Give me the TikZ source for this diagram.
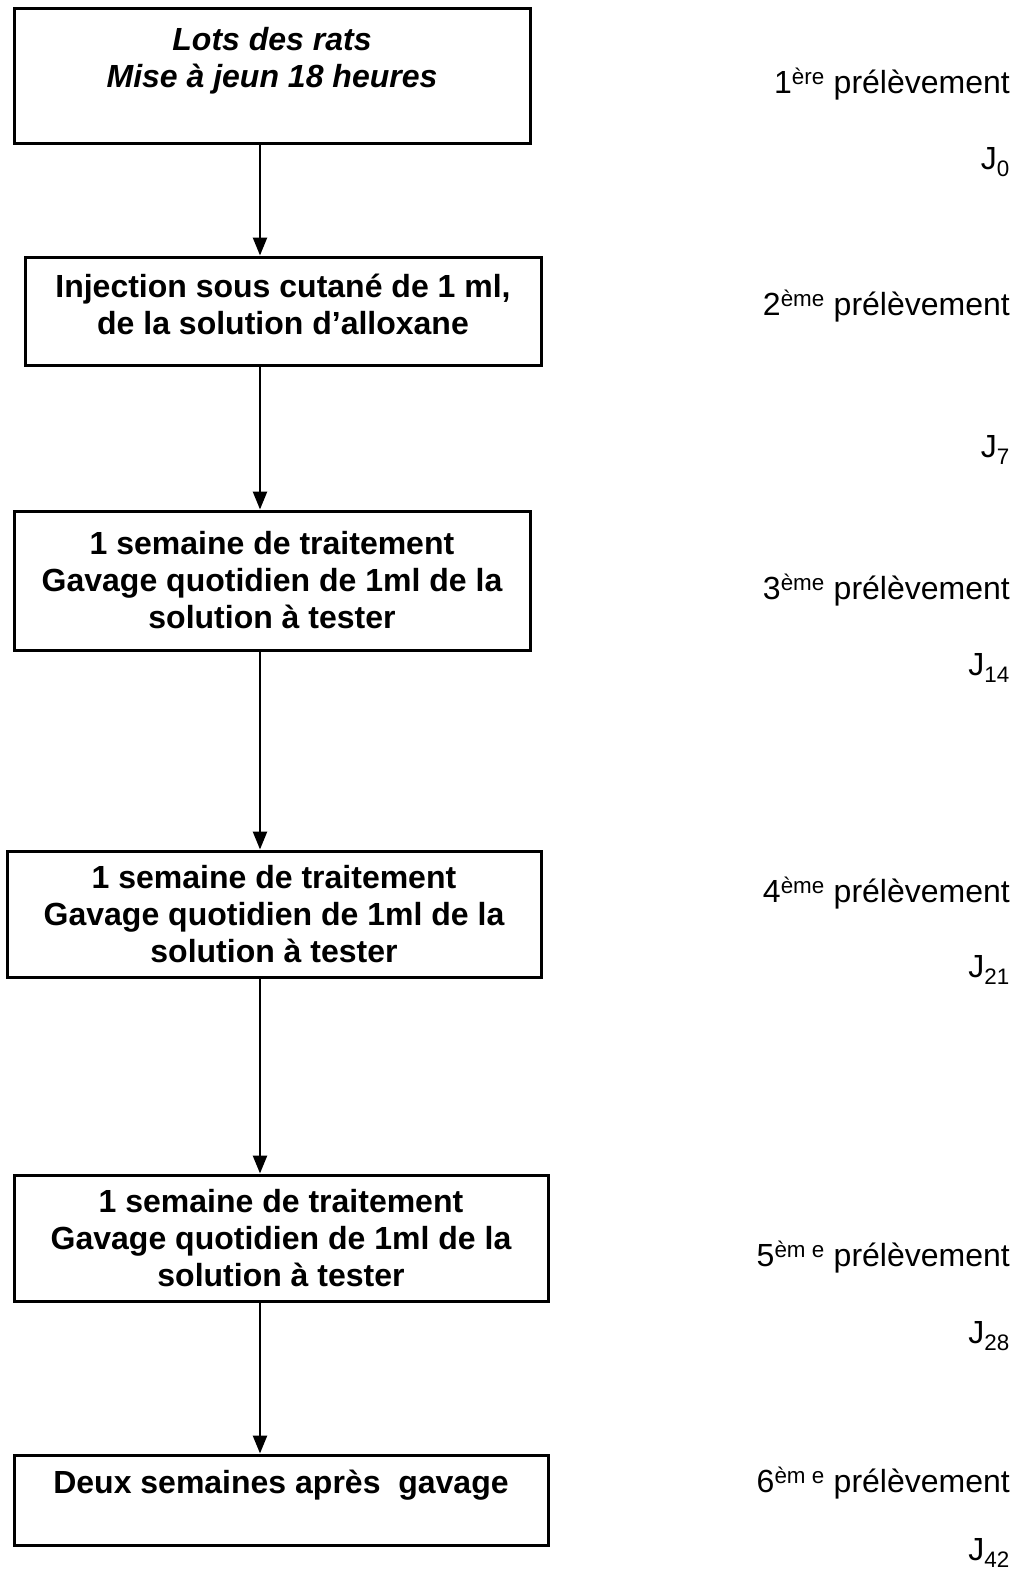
\documentclass[tikz,border=0pt]{standalone}
\usepackage{fontspec}
\setmainfont{Liberation Sans}
\usetikzlibrary{arrows.meta}

\begin{document}
\begin{tikzpicture}[x=1pt,y=-1pt,>={Triangle[width=14pt,length=18pt]},
stage/.style={draw,line width=3pt,inner sep=0pt,align=center,font=\fontsize{32}{37}\selectfont\bfseries},
prel/.style={anchor=east,inner sep=0pt,font=\fontsize{32}{37}\selectfont},
arr/.style={->,line width=2.5pt}]
\useasboundingbox (0,0) rectangle (1024,1571);
% etapes du protocole
\node[stage,minimum width=516pt,minimum height=134pt] (lots) at (272,76) {\itshape Lots des rats\\\itshape Mise à jeun 18 heures\\ };
\node[stage,minimum width=516pt,minimum height=108pt] (inject) at (283,311) {Injection sous cutané de 1 ml,\\de la solution d’alloxane\\[-34pt]\strut};
\node[stage,minimum width=516pt,minimum height=139pt] (sem1) at (272,580.5) {1 semaine de traitement\\Gavage quotidien de 1ml de la\\solution à tester};
\node[stage,minimum width=534pt,minimum height=126pt] (sem2) at (274,914) {1 semaine de traitement\\Gavage quotidien de 1ml de la\\solution à tester};
\node[stage,minimum width=534pt,minimum height=126pt] (sem3) at (281,1238) {1 semaine de traitement\\ Gavage quotidien de 1ml de la\\solution à tester};
\node[stage,minimum width=534pt,minimum height=90pt] (deux) at (281,1500) {Deux semaines après~~gavage\\ };
% prelevements
\node[prel] (p1) at (1010,84) {1\textsuperscript{ère} prélèvement};
\node[prel] (j0) at (1010,162) {J\textsubscript{0}};
\node[prel] (p2) at (1010,306) {2\textsuperscript{ème} prélèvement};
\node[prel] (j7) at (1010,450) {J\textsubscript{7}};
\node[prel] (p3) at (1010,590) {3\textsuperscript{ème} prélèvement};
\node[prel] (j14) at (1010,668) {J\textsubscript{14}};
\node[prel] (p4) at (1010,893) {4\textsuperscript{ème} prélèvement};
\node[prel] (j21) at (1010,970) {J\textsubscript{21}};
\node[prel] (p5) at (1010,1257) {5\textsuperscript{èm e} prélèvement};
\node[prel] (j28) at (1010,1336) {J\textsubscript{28}};
\node[prel] (p6) at (1010,1483) {6\textsuperscript{èm e} prélèvement};
\node[prel] (j42) at (1010,1553) {J\textsubscript{42}};
% fleches
\coordinate (axe) at (260,0);
\draw[arr] (lots.south -| axe)--(inject.north -| axe);
\draw[arr] (inject.south -| axe)--(sem1.north -| axe);
\draw[arr] (sem1.south -| axe)--(sem2.north -| axe);
\draw[arr] (sem2.south -| axe)--(sem3.north -| axe);
\draw[arr] (sem3.south -| axe)--(deux.north -| axe);
\end{tikzpicture}
\end{document}
